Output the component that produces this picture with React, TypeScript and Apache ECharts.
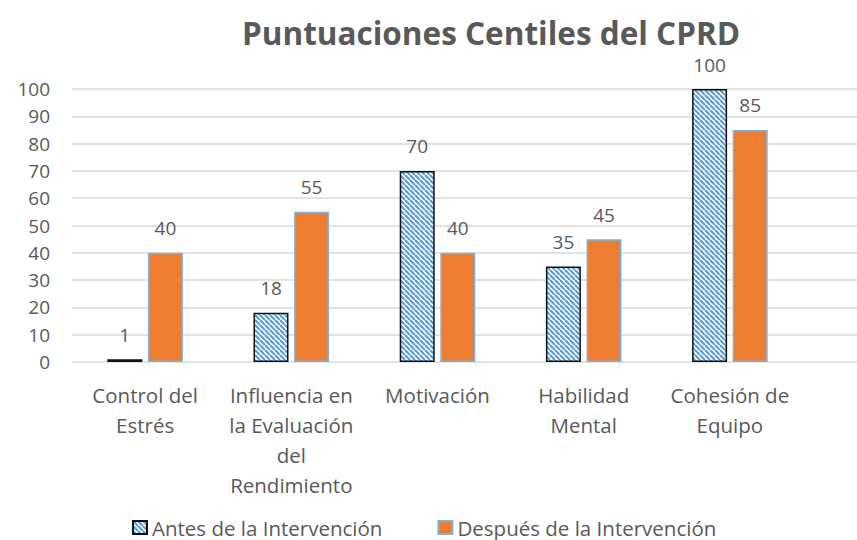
import React, { useEffect, useRef } from "react";
import * as echarts from "echarts";

const categories = [
  "Control del\nEstrés",
  "Influencia en\nla Evaluación\ndel\nRendimiento",
  "Motivación",
  "Habilidad\nMental",
  "Cohesión de\nEquipo",
];
const antes = [1, 18, 70, 35, 100];
const despues = [40, 55, 40, 45, 85];
const seriesNames = ["Antes de la Intervención", "Después de la Intervención"];
const titleText = "Puntuaciones Centiles del CPRD";

const FONT = "'Open Sans', 'Noto Sans', sans-serif";
const TXT = "#595959";
const FS_NUM = 19;
const FS_TXT = 20.5;

function makePattern(): HTMLCanvasElement {
  const s = 5;
  const c = document.createElement("canvas");
  c.width = s;
  c.height = s;
  const ctx = c.getContext("2d")!;
  ctx.fillStyle = "#ffffff";
  ctx.fillRect(0, 0, s, s);
  ctx.strokeStyle = "#5b9bd5";
  ctx.lineWidth = 2.2;
  for (const k of [-s, 0, s]) {
    ctx.beginPath();
    ctx.moveTo(k, 0);
    ctx.lineTo(k + s, s);
    ctx.stroke();
  }
  return c;
}

export default function App() {
  const ref = useRef<HTMLDivElement>(null);
  useEffect(() => {
    if (!ref.current) return;
    const chart = echarts.init(ref.current, undefined, { renderer: "svg" });
    const pattern = { image: makePattern(), repeat: "repeat" };
    const labelStyle = {
      show: true,
      position: "top",
      distance: 15,
      fontFamily: FONT,
      fontSize: FS_NUM,
      color: TXT,
    };
    chart.setOption({
      animation: false,
      backgroundColor: "#ffffff",
      title: {
        text: titleText,
        left: 486,
        textAlign: "center",
        top: 11,
        textStyle: {
          fontFamily: FONT,
          fontSize: 31.5,
          fontWeight: "bold",
          color: TXT,
        },
      },
      legend: {
        left: 127,
        top: 512,
        itemWidth: 14,
        itemHeight: 13,
        itemGap: 55,
        icon: "rect",
        textStyle: { fontFamily: FONT, fontSize: FS_TXT, color: TXT },
        data: seriesNames,
      },
      grid: [
        { left: 72, right: 54, top: 89, bottom: 178 },
        { left: 803, right: 0, top: 89, bottom: 178 },
      ],
      xAxis: [
        {
          type: "category",
          gridIndex: 0,
          data: categories,
          axisLine: { show: false },
          axisTick: { show: false },
          axisLabel: {
            interval: 0,
            margin: 18,
            fontFamily: FONT,
            fontSize: FS_TXT,
            lineHeight: 30,
            color: TXT,
            align: "center",
          },
        },
        {
          type: "category",
          gridIndex: 1,
          data: [""],
          show: false,
        },
      ],
      yAxis: [
        {
          type: "value",
          gridIndex: 0,
          min: 0,
          max: 100,
          interval: 10,
          axisLine: { show: false },
          axisTick: { show: false },
          splitLine: { lineStyle: { color: "#d9d9d9", width: 1.5 } },
          axisLabel: {
            margin: 22,
            fontFamily: FONT,
            fontSize: FS_NUM,
            color: TXT,
          },
        },
        {
          type: "value",
          gridIndex: 1,
          min: 0,
          max: 100,
          interval: 10,
          axisLine: { show: false },
          axisTick: { show: false },
          axisLabel: { show: false },
          splitLine: { lineStyle: { color: "#d9d9d9", width: 1.5 } },
        },
      ],
      series: [
        {
          name: seriesNames[0],
          type: "bar",
          xAxisIndex: 0,
          yAxisIndex: 0,
          data: antes,
          barWidth: 35,
          barGap: "16%",
          itemStyle: {
            color: pattern,
            borderColor: "#111111",
            borderWidth: 1.5,
          },
          label: labelStyle,
        },
        {
          name: seriesNames[1],
          type: "bar",
          xAxisIndex: 0,
          yAxisIndex: 0,
          data: despues,
          barWidth: 35,
          itemStyle: {
            color: "#ed7d31",
            borderColor: "#7fb2e0",
            borderWidth: 1.5,
          },
          label: labelStyle,
        },
      ],
    });
    return () => chart.dispose();
  }, []);
  return (
    <div
      ref={ref}
      style={{ position: "fixed", left: 0, top: 0, width: 857, height: 540 }}
    />
  );
}
